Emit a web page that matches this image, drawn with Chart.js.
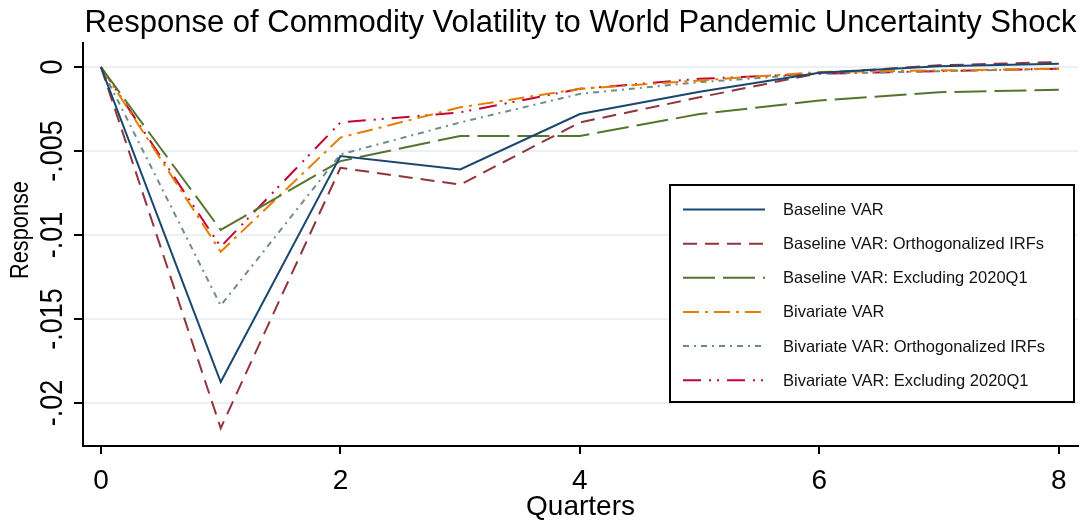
<!DOCTYPE html>
<html>
<head>
<meta charset="utf-8">
<script src="https://cdn.jsdelivr.net/npm/chart.js@4.4.1/dist/chart.umd.min.js"></script>
<style>
  html, body { margin: 0; padding: 0; background: #fff; }
  #wrap { width: 1088px; height: 522px; }
</style>
</head>
<body>
<div id="wrap"><canvas id="grafico_irf" width="1088" height="522"></canvas></div>
<script>
// Dados (resposta por trimestre)
const quarters = [0, 1, 2, 3, 4, 5, 6, 7, 8];
const baselineVar     = [0, -0.01875, -0.0053, -0.0061, -0.0028, -0.00147, -0.00034, 0.00005, 0.0002];
const baselineOrth    = [0, -0.0215, -0.0060, -0.0070, -0.0033, -0.0018, -0.00036, 0.0001, 0.0003];
const baselineExcl    = [0, -0.0097, -0.0056, -0.0041, -0.0041, -0.0028, -0.0020, -0.0015, -0.00135];
const bivariateVar    = [0, -0.0110, -0.0042, -0.0024, -0.0013, -0.0008, -0.0003, -0.0002, -0.0001];
const bivariateOrth   = [0, -0.0142, -0.0052, -0.0033, -0.0016, -0.0009, -0.0004, -0.00025, -0.0001];
const bivariateExcl   = [0, -0.0107, -0.0033, -0.0027, -0.0013, -0.0007, -0.0004, -0.00024, -0.0001];

const seriesNames = [
    'Baseline VAR',
    'Baseline VAR: Orthogonalized IRFs',
    'Baseline VAR: Excluding 2020Q1',
    'Bivariate VAR',
    'Bivariate VAR: Orthogonalized IRFs',
    'Bivariate VAR: Excluding 2020Q1'
];
const xTicks = [0, 2, 4, 6, 8];
const yTicks = [0, -0.005, -0.01, -0.015, -0.02];
const yTickLabels = ['0', '-.005', '-.01', '-.015', '-.02'];

const FONT = '"Liberation Sans", Arial, sans-serif';

function toPoints(values) {
    return quarters.map((q, i) => ({ x: q, y: values[i] }));
}

function makeDataset(label, values, color, dash) {
    return {
        label: label,
        data: toPoints(values),
        borderColor: color,
        backgroundColor: color,
        borderWidth: 2,
        borderDash: dash,
        pointRadius: 0,
        tension: 0,
        fill: false
    };
}

// Título, rótulos girados do eixo y e legenda dentro da área do gráfico
const extrasPlugin = {
    id: 'extras',
    afterDraw(chart) {
        const ctx = chart.ctx;
        const area = chart.chartArea;
        const yScale = chart.scales.y;
        ctx.save();
        ctx.fillStyle = '#000';

        // título
        ctx.font = '31px ' + FONT;
        ctx.textAlign = 'center';
        ctx.textBaseline = 'alphabetic';
        ctx.fillText('Response of Commodity Volatility to World Pandemic Uncertainty Shock', (area.left + area.right) / 2, 32);

        // rótulos do eixo y (verticais)
        ctx.font = '31px ' + FONT;
        yTicks.forEach((v, i) => {
            ctx.save();
            ctx.translate(62, yScale.getPixelForValue(v));
            ctx.rotate(-Math.PI / 2);
            ctx.scale(0.87, 1);
            ctx.fillText(yTickLabels[i], 0, 0);
            ctx.restore();
        });

        // título do eixo y
        ctx.save();
        ctx.font = '25px ' + FONT;
        ctx.translate(28, 230);
        ctx.rotate(-Math.PI / 2);
        ctx.scale(0.87, 1);
        ctx.fillText('Response', 0, 0);
        ctx.restore();

        // título do eixo x
        ctx.font = '28px ' + FONT;
        ctx.fillText('Quarters', (area.left + area.right) / 2, 515);

        // legenda
        const box = { left: 670, top: 185, right: 1074, bottom: 402 };
        ctx.fillStyle = '#fff';
        ctx.fillRect(box.left, box.top, box.right - box.left, box.bottom - box.top);
        ctx.strokeStyle = '#000';
        ctx.lineWidth = 2;
        ctx.strokeRect(box.left, box.top, box.right - box.left, box.bottom - box.top);

        ctx.font = '16.5px ' + FONT;
        ctx.textAlign = 'left';
        ctx.textBaseline = 'middle';
        chart.data.datasets.forEach((ds, i) => {
            const y = 209.5 + i * 34.15;
            ctx.strokeStyle = ds.borderColor;
            ctx.lineWidth = ds.borderWidth;
            ctx.setLineDash(ds.borderDash || []);
            ctx.beginPath();
            ctx.moveTo(683, y);
            ctx.lineTo(765, y);
            ctx.stroke();
            ctx.setLineDash([]);
            ctx.fillStyle = '#111';
            ctx.fillText(ds.label, 783, y + 1);
        });
        ctx.restore();
    }
};

const ctxIrf = document.getElementById('grafico_irf').getContext('2d');
new Chart(ctxIrf, {
    type: 'line',
    data: {
        datasets: [
            makeDataset(seriesNames[0], baselineVar, '#1a476f', []),
            makeDataset(seriesNames[1], baselineOrth, '#90353b', [14, 8]),
            makeDataset(seriesNames[2], baselineExcl, '#55752f', [32, 8]),
            makeDataset(seriesNames[3], bivariateVar, '#e37e00', [16, 6, 3, 6]),
            makeDataset(seriesNames[4], bivariateOrth, '#6e8e84', [6, 5, 2, 5]),
            makeDataset(seriesNames[5], bivariateExcl, '#c10534', [18, 8, 2, 6, 2, 8])
        ]
    },
    options: {
        responsive: false,
        animation: false,
        layout: { padding: { top: 43, right: 10, left: 0, bottom: 0 } },
        plugins: {
            legend: { display: false },
            title: { display: false },
            tooltip: { enabled: false }
        },
        scales: {
            x: {
                type: 'linear',
                min: -0.15,
                max: 8.16,
                afterBuildTicks: (scale) => { scale.ticks = xTicks.map(v => ({ value: v })); },
                afterFit: (scale) => { scale.height = 76; },
                ticks: {
                    autoSkip: false,
                    maxRotation: 0,
                    padding: 10,
                    color: '#000',
                    font: { family: FONT, size: 28 },
                    callback: (v) => String(v)
                },
                grid: {
                    drawOnChartArea: false,
                    drawTicks: true,
                    tickLength: 8,
                    color: '#000',
                    lineWidth: 2
                },
                border: { display: true, color: '#000', width: 2 }
            },
            y: {
                type: 'linear',
                min: -0.02256,
                max: 0.00143,
                afterBuildTicks: (scale) => { scale.ticks = yTicks.map(v => ({ value: v })); },
                afterFit: (scale) => { scale.width = 83; },
                ticks: {
                    color: 'rgba(0,0,0,0)',
                    font: { family: FONT, size: 12 }
                },
                grid: {
                    color: '#eaf0f3',
                    lineWidth: 2,
                    tickColor: '#000',
                    tickWidth: 2,
                    tickLength: 9
                },
                border: { display: true, color: '#000', width: 2 }
            }
        }
    },
    plugins: [extrasPlugin]
});
</script>
</body>
</html>
